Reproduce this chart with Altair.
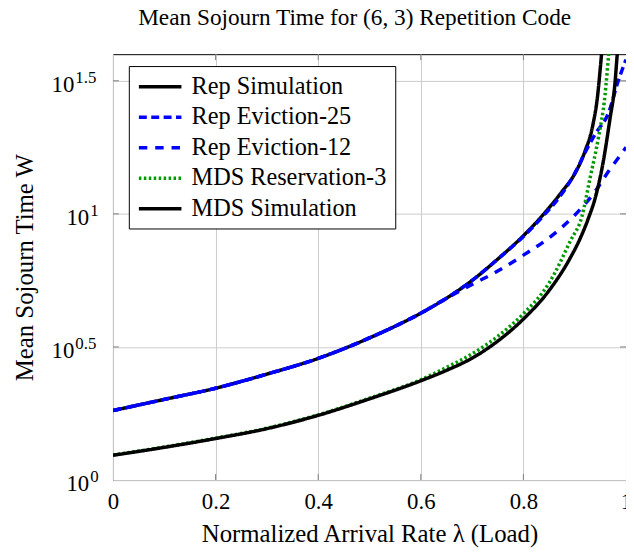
import altair as alt
import pandas as pd

# ---- data (x = normalized load, w = mean sojourn time) ----
load_rep_sim = [0, 0.1, 0.2, 0.3, 0.4, 0.5, 0.6, 0.65, 0.7, 0.75, 0.8, 0.84, 0.875, 0.9, 0.92, 0.935, 0.945, 0.95, 0.955]
w_rep_sim = [1.824, 2.009, 2.213, 2.500, 2.864, 3.420, 4.236, 4.819, 5.623, 6.761, 8.279, 10.00, 12.11, 14.13, 17.18, 21.38, 28.18, 35.48, 45.71]

load_ev25 = [0, 0.1, 0.2, 0.3, 0.4, 0.5, 0.6, 0.65, 0.7, 0.75, 0.8, 0.84, 0.875, 0.905, 0.92, 0.94, 0.966, 0.985, 1.0]
w_ev25 = [1.824, 2.009, 2.213, 2.500, 2.864, 3.420, 4.236, 4.819, 5.623, 6.761, 8.222, 9.886, 11.89, 14.79, 16.98, 19.95, 23.99, 31.62, 38.02]

load_ev12 = [0, 0.1, 0.2, 0.3, 0.4, 0.5, 0.6, 0.65, 0.7, 0.75, 0.8, 0.85, 0.9, 0.94, 0.966, 0.985, 1.0]
w_ev12 = [1.824, 2.009, 2.213, 2.500, 2.864, 3.420, 4.236, 4.819, 5.433, 6.095, 6.998, 8.128, 9.886, 12.16, 14.45, 16.22, 17.78]

load_mds_res = [0, 0.1, 0.2, 0.3, 0.4, 0.5, 0.6, 0.65, 0.7, 0.75, 0.8, 0.85, 0.892, 0.914, 0.93, 0.946, 0.959, 0.966, 0.97]
w_mds_res = [1.242, 1.331, 1.437, 1.566, 1.758, 2.030, 2.382, 2.649, 2.979, 3.467, 4.217, 5.495, 7.943, 9.772, 13.65, 19.23, 27.86, 39.26, 47.86]

load_mds_sim = [0, 0.1, 0.2, 0.3, 0.4, 0.5, 0.6, 0.65, 0.7, 0.75, 0.8, 0.85, 0.89, 0.91, 0.927, 0.94, 0.956, 0.969, 0.978, 0.983, 0.986]
w_mds_sim = [1.239, 1.327, 1.432, 1.560, 1.750, 2.018, 2.360, 2.582, 2.871, 3.327, 4.027, 5.152, 6.761, 8.035, 9.661, 11.48, 15.85, 22.91, 30.20, 39.81, 45.71]

series_names = ["Rep Simulation", "Rep Eviction-25", "Rep Eviction-12", "MDS Reservation-3", "MDS Simulation"]
x_ticks = [0, 0.2, 0.4, 0.6, 0.8, 1]
y_tick_values = [1, 3.1623, 10, 31.623]
y_tick_exps = ["0", "0.5", "1", "1.5"]

# ---- styles ----
series_colors = ["#000000", "#0000ff", "#0000ff", "#009900", "#000000"]
series_dashes = [[1, 0], [8, 4.5], [8.5, 8], [2.5, 2.5], [1, 0]]
FONT = "Liberation Serif"
X_TITLE = "Normalized Arrival Rate λ (Load)"
Y_TITLE = "Mean Sojourn Time W"
LW = 3.5

all_loads = [load_rep_sim, load_ev25, load_ev12, load_mds_res, load_mds_sim]
all_ws = [w_rep_sim, w_ev25, w_ev12, w_mds_res, w_mds_sim]
frames = []
for name, xs, ws in zip(series_names, all_loads, all_ws):
    frames.append(pd.DataFrame({"series": name, "load": xs, "w": ws}))
df = pd.concat(frames, ignore_index=True)

xscale = alt.Scale(domain=[0, 1], nice=False, zero=False)
yscale = alt.Scale(type="log", domain=[1, 39.81], nice=False)

xaxis = alt.Axis(
    values=x_ticks,
    labelExpr="datum.value == 0 ? '0' : (datum.value == 1 ? '1' : format(datum.value, '.1f'))",
    labelFont=FONT, labelFontSize=23, labelColor="black", labelPadding=11, labelFlush=False,
    ticks=False, domain=False, grid=True, gridColor="#cccccc", gridWidth=1,
    titleFont=FONT, titleFontSize=25, titleFontWeight="normal", titleColor="black",
    titleX=259, titleY=62, titleBaseline="alphabetic", titleAlign="center",
)
yaxis = alt.Axis(
    values=y_tick_values, labels=False, ticks=False, domain=False,
    grid=True, gridColor="#cccccc", gridWidth=1,
    titleFont=FONT, titleFontSize=25, titleFontWeight="normal", titleColor="black",
    titleX=-81, titleY=215, titleBaseline="alphabetic", titleAlign="center", titleAngle=270,
)

legend = alt.Legend(
    title=None, orient="none", legendX=16, legendY=12,
    symbolType="M-1,0H3", symbolSize=462, symbolStrokeWidth=LW,
    labelFont=FONT, labelFontSize=24.5, labelColor="black", labelLimit=0,
    padding=8.4, rowPadding=5.8, labelOffset=30,
    strokeColor="black", fillColor="white", cornerRadius=0,
)

color_enc = alt.Color("series:N", scale=alt.Scale(domain=series_names, range=series_colors), legend=legend)
dash_enc = alt.StrokeDash("series:N", scale=alt.Scale(domain=series_names, range=series_dashes), legend=legend)


def X(field):
    return alt.X(field, type="quantitative", scale=xscale, axis=xaxis, title=X_TITLE)


def Y(field):
    return alt.Y(field, type="quantitative", scale=yscale, axis=yaxis, title=Y_TITLE)


def line_layer(name):
    return (
        alt.Chart(df)
        .transform_filter(alt.datum.series == name)
        .mark_line(clip=True, strokeWidth=LW, interpolate="monotone")
        .encode(x=X("load"), y=Y("w"), color=color_enc, strokeDash=dash_enc)
    )


lines = [line_layer(n) for n in series_names]

xt_df = pd.DataFrame({"x": x_ticks[1:-1]})
yt_df = pd.DataFrame({"val": y_tick_values, "exp": y_tick_exps})
yt_inner = pd.DataFrame({"val": y_tick_values[1:]})

tick_style = dict(color="#7f7f7f", strokeWidth=1)
tick_bottom = alt.Chart(xt_df).mark_rule(**tick_style).encode(x=X("x"), y=alt.value(430), y2=alt.value(424))
tick_top = alt.Chart(xt_df).mark_rule(**tick_style).encode(x=X("x"), y=alt.value(0), y2=alt.value(6))
tick_left = alt.Chart(yt_inner).mark_rule(**tick_style).encode(y=Y("val"), x=alt.value(0), x2=alt.value(6))
tick_right = alt.Chart(yt_inner).mark_rule(**tick_style).encode(y=Y("val"), x=alt.value(518), x2=alt.value(512))


def ylabel_layers(long_exp, base_x):
    cond = "length(datum.exp) > 1" if long_exp else "length(datum.exp) <= 1"
    src = alt.Chart(yt_df).transform_filter(cond)
    base = src.mark_text(align="right", baseline="alphabetic", dy=11, font=FONT, fontSize=23, color="black").encode(
        x=alt.value(base_x), y=Y("val"), text=alt.value("10"))
    sup = src.mark_text(align="left", baseline="alphabetic", dy=2, font=FONT, fontSize=17, color="black").encode(
        x=alt.value(base_x + 1), y=Y("val"), text="exp:N")
    return [base, sup]


labels = ylabel_layers(True, -39) + ylabel_layers(False, -24)

chart = (
    alt.layer(*lines, tick_bottom, tick_top, tick_left, tick_right, *labels)
    .properties(
        width=518, height=430,
        title=alt.TitleParams(
            "Mean Sojourn Time for (6, 3) Repetition Code", font=FONT, fontSize=23.5,
            fontWeight="normal", color="black", anchor="middle", frame="group",
            baseline="alphabetic", offset=5, dx=-15,
        ),
        autosize=alt.AutoSizeParams(type="none"),
        padding={"left": 106, "top": 44, "right": 0, "bottom": 67},
        background="white",
    )
    .configure_view(stroke="black", strokeWidth=1)
)

chart.save("out.html", embed_options={"renderer": "svg", "actions": False})
